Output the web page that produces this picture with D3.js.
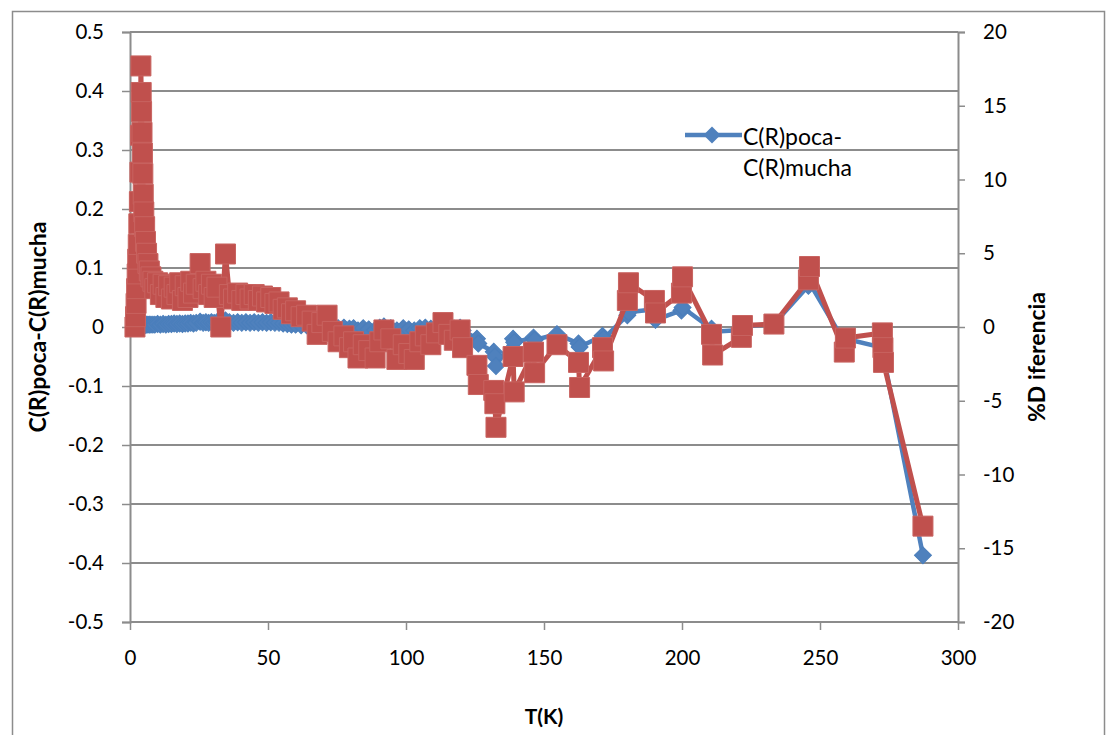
<!DOCTYPE html>
<html>
<head>
<meta charset="utf-8">
<script src="https://cdn.jsdelivr.net/npm/d3@7"></script>
<style>
  html, body { margin: 0; padding: 0; background: #fff; }
  svg { display: block; font-family: Lato, "Liberation Sans", sans-serif; }
</style>
</head>
<body>
<svg id="chart" width="1115" height="735"></svg>
<script>
// temperatura (K), shared by both series
const temps= [1.8, 2.0, 2.2, 2.4, 2.6, 2.8, 3.0, 3.2, 3.4, 3.6, 3.8, 3.95, 4.05, 4.2, 4.35, 4.5, 4.65, 4.8, 5.0, 5.3,
  5.6, 6.0, 6.5, 7.0, 7.6, 8.3, 9.0, 10, 11, 12, 13, 14, 15, 16, 17, 18, 19, 20, 21, 22,
  23, 24, 25.4, 26.5, 27.5, 28.5, 29.5, 30.5, 31.5, 32.9, 34.6, 36, 37.5, 39, 40.5, 42, 43.5, 45, 46.5, 48,
  49.5, 51, 52.5, 54, 55.5, 57, 58.5, 60, 62, 64, 66, 67.8, 69.5, 71.4, 73.3, 75.4, 77.5, 79.5, 81, 82.6,
  84.5, 86.5, 88.8, 90.5, 92, 94.5, 96.7, 99, 101, 103, 105, 107, 109, 111, 113.4, 115.5, 117.5, 119.6, 120.5, 125.7,
  126.2, 131.8, 132.2, 132.6, 138.8, 139.2, 146.2, 146.6, 154.7, 162.5, 162.9, 171.2, 171.6, 180.2, 180.6, 190.0, 190.4, 199.8, 200.2, 210.7,
  211.1, 221.5, 221.9, 233.3, 245.8, 246.2, 258.8, 259.2, 272.6, 272.8, 273.0, 287.3];

// C(R)poca - C(R)mucha (left axis)
const diffC= [0.000, 0.000, 0.001, 0.001, 0.001, 0.001, 0.001, 0.002, 0.002, 0.002, 0.002, 0.003, 0.003, 0.003, 0.003, 0.003, 0.003, 0.003, 0.003, 0.003,
  0.004, 0.004, 0.004, 0.004, 0.004, 0.004, 0.004, 0.005, 0.004, 0.005, 0.004, 0.005, 0.005, 0.006, 0.005, 0.006, 0.005, 0.006, 0.006, 0.007,
  0.006, 0.007, 0.009, 0.007, 0.008, 0.007, 0.008, 0.007, 0.008, 0.004, 0.011, 0.008, 0.007, 0.008, 0.007, 0.008, 0.007, 0.008, 0.007, 0.008,
  0.007, 0.008, 0.007, 0.007, 0.006, 0.005, 0.004, 0.004, 0.003, 0.003, 0.001, -0.001, 0.001, 0.002, -0.001, -0.002, -0.001, -0.003, -0.002, -0.006,
  -0.002, -0.004, -0.005, -0.001, 0.001, -0.002, -0.006, -0.002, -0.004, -0.006, -0.002, -0.001, -0.003, 0.000, 0.002, -0.002, -0.003, -0.001, -0.006, -0.020,
  -0.028, -0.042, -0.050, -0.066, -0.020, -0.026, -0.018, -0.022, -0.012, -0.028, -0.034, -0.015, -0.020, 0.020, 0.025, 0.030, 0.012, 0.028, 0.033, -0.003,
  -0.008, -0.005, 0.001, 0.005, 0.070, 0.075, -0.025, -0.020, -0.035, -0.045, -0.050, -0.387];

// %Diferencia (right axis)
const pctDiff= [0.0, 0.7, 1.6, 2.6, 3.6, 4.6, 5.6, 7.0, 8.5, 10.5, 13.0, 17.7, 15.9, 14.6, 13.2, 11.8, 10.4, 9.0, 7.8, 6.8,
  5.8, 5.0, 4.3, 3.8, 3.4, 3.1, 2.6, 3.0, 2.2, 2.9, 2.0, 2.8, 1.9, 2.7, 2.2, 3.0, 1.8, 2.8, 2.0, 3.1,
  2.3, 2.9, 4.3, 2.6, 3.1, 2.2, 2.9, 2.0, 2.7, 0.0, 4.95, 2.2, 1.9, 2.3, 1.8, 2.2, 1.9, 2.2, 1.8, 2.1,
  1.7, 2.0, 1.6, 1.7, 1.2, 1.3, 0.9, 1.1, 0.7, 0.8, 0.4, -0.5, 0.3, 0.8, -0.3, -1.0, -0.6, -1.4, -1.0, -2.1,
  -1.2, -1.6, -2.1, -1.0, -0.2, -0.8, -2.2, -1.2, -1.8, -2.2, -1.0, -0.6, -1.2, -0.4, 0.3, -0.5, -0.9, -0.2, -1.4, -2.6,
  -3.9, -4.3, -5.2, -6.8, -2.0, -4.4, -1.7, -3.1, -1.2, -2.4, -4.1, -1.4, -2.3, 1.8, 3.0, 1.8, 0.95, 2.3, 3.4, -0.5,
  -1.9, -0.7, 0.1, 0.2, 3.2, 4.1, -1.7, -0.75, -0.4, -1.4, -2.4, -13.5];

const xTicks= [0, 50, 100, 150, 200, 250, 300];
const leftTicks= [0.5, 0.4, 0.3, 0.2, 0.1, 0, -0.1, -0.2, -0.3, -0.4, -0.5];
const rightTicks= [20, 15, 10, 5, 0, -5, -10, -15, -20];

const BLUE= '#4f81bd', RED= '#c0504d', GRID= '#8c8c8c';
const FONT= 'Lato, "Liberation Sans", sans-serif';

const svg= d3.select('#chart');
const x= d3.scaleLinear().domain([0, 300]).range([130, 958]);
const yL= d3.scaleLinear().domain([-0.5, 0.5]).range([622, 32]);
const yR= d3.scaleLinear().domain([-20, 20]).range([622, 32]);

// plain hyphen for negatives, like the original
const num= d => String(+d.toFixed(1));

// chart border
svg.append('rect')
  .attr('x', 12.5).attr('y', 11.5)
  .attr('width', 1092).attr('height', 740)
  .attr('fill', 'none').attr('stroke', '#8c8c8c').attr('stroke-width', 1.5);

// horizontal grid
svg.append('g').selectAll('line').data(leftTicks).join('line')
  .attr('x1', 130).attr('x2', 958)
  .attr('y1', d => yL(d)).attr('y2', d => yL(d))
  .attr('stroke', GRID).attr('stroke-width', 2);

// axes
const axL= svg.append('g').attr('transform', 'translate(130,0)')
  .call(d3.axisLeft(yL).tickValues(leftTicks).tickSize(8).tickPadding(18).tickFormat(num));
const axR= svg.append('g').attr('transform', 'translate(958,0)')
  .call(d3.axisRight(yR).tickValues(rightTicks).tickSize(7).tickPadding(18).tickFormat(num));
const axB= svg.append('g').attr('transform', 'translate(0,622)')
  .call(d3.axisBottom(x).tickValues(xTicks).tickSize(8).tickPadding(20).tickFormat(num));

[axL, axR, axB].forEach(g => {
  g.select('.domain').attr('stroke', GRID).attr('stroke-width', 2);
  g.selectAll('.tick line').attr('stroke', GRID).attr('stroke-width', 1.5);
  g.selectAll('.tick text').attr('font-size', 20.5).attr('fill', '#000').attr('font-family', FONT);
});
axB.select('.domain').remove();

// axis titles
svg.append('text')
  .attr('transform', 'translate(46,327) rotate(-90)')
  .attr('text-anchor', 'middle')
  .attr('font-size', 23).attr('font-weight', 'bold')
  .text('C(R)poca-C(R)mucha');
svg.append('text')
  .attr('transform', 'translate(1045,357) rotate(-90)')
  .attr('text-anchor', 'middle')
  .attr('font-size', 23).attr('font-weight', 'bold')
  .text('%D iferencia');
svg.append('text')
  .attr('x', 544).attr('y', 724)
  .attr('text-anchor', 'middle')
  .attr('font-size', 21).attr('font-weight', 'bold')
  .text('T(K)');

// series
const blueLine= d3.line().x((d, i) => x(temps[i])).y(d => yL(d));
const redLine= d3.line().x((d, i) => x(temps[i])).y(d => yR(d));
const diamond= d3.symbol(d3.symbolSquare, 144)();
const square= d3.symbol(d3.symbolSquare, 400)();

svg.append('path').attr('d', blueLine(diffC))
  .attr('fill', 'none').attr('stroke', BLUE).attr('stroke-width', 4.5).attr('stroke-linejoin', 'round');
svg.append('g').selectAll('path').data(diffC).join('path')
  .attr('d', diamond)
  .attr('transform', (d, i) => `translate(${x(temps[i])},${yL(d)}) rotate(45)`)
  .attr('fill', BLUE).attr('stroke', '#4a7ebb').attr('stroke-width', 1);

svg.append('path').attr('d', redLine(pctDiff))
  .attr('fill', 'none').attr('stroke', RED).attr('stroke-width', 5).attr('stroke-linejoin', 'round');
svg.append('g').selectAll('path').data(pctDiff).join('path')
  .attr('d', square)
  .attr('transform', (d, i) => `translate(${x(temps[i])},${yR(d)})`)
  .attr('fill', RED).attr('stroke', '#c86360').attr('stroke-width', 1);

// legend (only the first series shows)
const lg= svg.append('g').attr('transform', 'translate(685,135)');
lg.append('line').attr('x1', 0).attr('x2', 57)
  .attr('stroke', BLUE).attr('stroke-width', 4.5);
lg.append('path').attr('d', diamond)
  .attr('transform', 'translate(27,0) rotate(45)')
  .attr('fill', BLUE);
lg.append('text').attr('x', 58).attr('y', 10).attr('font-size', 23).text('C(R)poca-');
lg.append('text').attr('x', 58).attr('y', 41).attr('font-size', 23).text('C(R)mucha');
</script>
</body>
</html>
